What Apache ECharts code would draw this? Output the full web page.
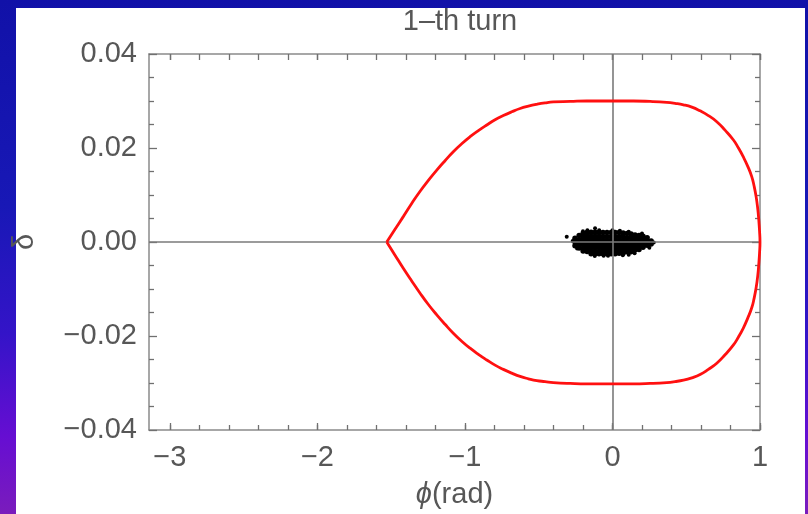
<!DOCTYPE html>
<html>
<head>
<meta charset="utf-8">
<script src="https://cdn.jsdelivr.net/npm/echarts@6/dist/echarts.min.js"></script>
<style>
  html,body{margin:0;padding:0;}
  body{width:808px;height:514px;overflow:hidden;position:relative;
    background:linear-gradient(to bottom,#1111a8 0%,#1818b6 40%,#3414c8 65%,#660ed2 85%,#7a1cbc 100%);}
  #panel{position:absolute;left:16px;top:8px;width:789px;height:506px;background:#ffffff;}
  #c{position:absolute;left:0;top:0;width:808px;height:514px;}
</style>
</head>
<body>
<div id="panel"></div>
<div id="c"></div>
<script>
// ---- data ----
const xMajorTicks = [-3, -2, -1, 0, 1];
const xTickLabels = ['\u22123', '\u22122', '\u22121', '0', '1'];
const xMinorTicks = [-3.0,-2.8,-2.6,-2.4,-2.2,-2.0,-1.8,-1.6,-1.4,-1.2,-1.0,-0.8,-0.6,-0.4,-0.2,0,0.2,0.4,0.6,0.8,1.0];
const yMajorTicks = [-0.04, -0.02, 0, 0.02, 0.04];
const yTickLabels = ['\u22120.04', '\u22120.02', '0.00', '0.02', '0.04'];

// separatrix (upper branch, left vertex -> right end)
const sepUpper = [[-1.530,0],[-1.474,0.0027],[-1.418,0.0054],[-1.361,0.0082],[-1.304,0.0108],
  [-1.248,0.0131],[-1.191,0.0153],[-1.135,0.0173],[-1.079,0.0192],[-1.022,0.0209],
  [-0.965,0.0224],[-0.909,0.0237],[-0.852,0.0249],[-0.796,0.0260],[-0.740,0.0269],
  [-0.683,0.0277],[-0.626,0.0284],[-0.570,0.0289],[-0.513,0.0293],[-0.457,0.0296],
  [-0.401,0.0298],[-0.287,0.0299],[-0.174,0.0300],[0,0.0300],[0.142,0.0300],[0.255,0.0299],
  [0.368,0.0297],[0.424,0.0295],[0.481,0.0292],[0.538,0.0287],[0.594,0.0279],
  [0.650,0.0269],[0.707,0.0256],[0.763,0.0238],[0.820,0.0217],[0.854,0.0200],
  [0.887,0.0181],[0.917,0.0161],[0.944,0.0139],[0.960,0.0119],[0.974,0.0096],
  [0.985,0.0070],[0.992,0.0046],[0.997,0.0023],[1.0,0]];
// separatrix (lower branch, right end -> left vertex)
const sepLower = [[0.997,-0.0023],[0.992,-0.0046],[0.985,-0.0071],[0.974,-0.0097],
  [0.960,-0.0120],[0.944,-0.0140],[0.917,-0.0162],[0.887,-0.0183],[0.854,-0.0202],
  [0.820,-0.0219],[0.763,-0.0240],[0.707,-0.0258],[0.650,-0.0271],[0.594,-0.0282],
  [0.538,-0.0289],[0.481,-0.0294],[0.424,-0.0297],[0.368,-0.0299],[0.255,-0.0301],
  [0.142,-0.0302],[0,-0.0302],[-0.174,-0.0302],[-0.287,-0.0301],[-0.401,-0.0299],
  [-0.457,-0.0297],[-0.513,-0.0295],[-0.570,-0.0291],[-0.626,-0.0286],[-0.683,-0.0279],
  [-0.740,-0.0271],[-0.796,-0.0262],[-0.852,-0.0251],[-0.909,-0.0239],[-0.965,-0.0226],
  [-1.022,-0.0211],[-1.079,-0.0194],[-1.135,-0.0175],[-1.191,-0.0155],[-1.248,-0.0133],
  [-1.304,-0.0109],[-1.361,-0.0083],[-1.418,-0.0056],[-1.474,-0.0028],[-1.530,0]];

// particle bunch: columns of phi with the delta values seen in each column
const bunchColumns = [
  [-0.254, [0.0008, 0.0000, -0.0008]],
  [-0.226, [0.0014, 0.0005, -0.0004, -0.0013]],
  [-0.199, [0.0018, 0.0010, 0.0002, -0.0006, -0.0014, -0.0019]],
  [-0.172, [0.0020, 0.0012, 0.0004, -0.0004, -0.0012, -0.0020]],
  [-0.145, [0.0021, 0.0012, 0.0004, -0.0004, -0.0012, -0.0020, -0.0025]],
  [-0.118, [0.0021, 0.0012, 0.0004, -0.0004, -0.0012, -0.0020, -0.0025]],
  [-0.091, [0.0021, 0.0012, 0.0004, -0.0004, -0.0012, -0.0020, -0.0025]],
  [-0.064, [0.0020, 0.0011, 0.0003, -0.0005, -0.0013, -0.0020, -0.0025]],
  [-0.037, [0.0020, 0.0011, 0.0003, -0.0005, -0.0013, -0.0020, -0.0025]],
  [-0.009, [0.0020, 0.0011, 0.0003, -0.0005, -0.0013, -0.0020, -0.0025]],
  [0.018,  [0.0020, 0.0011, 0.0003, -0.0005, -0.0013, -0.0020, -0.0025]],
  [0.045,  [0.0020, 0.0011, 0.0003, -0.0005, -0.0013, -0.0020, -0.0024]],
  [0.072,  [0.0019, 0.0011, 0.0003, -0.0005, -0.0013, -0.0020, -0.0024]],
  [0.099,  [0.0018, 0.0009, 0.0001, -0.0007, -0.0015, -0.0021]],
  [0.126,  [0.0017, 0.0009, 0.0001, -0.0007, -0.0015, -0.0021]],
  [0.153,  [0.0015, 0.0007, -0.0001, -0.0009, -0.0017]],
  [0.180,  [0.0014, 0.0006, -0.0002, -0.0010, -0.0016]],
  [0.207,  [0.0012, 0.0004, -0.0004, -0.0011]],
  [0.235,  [0.0009, 0.0001, -0.0007]],
  [0.262,  [0.0002, -0.0004]]
];
const bunchEdge = [[-0.310,0.0011],[-0.118,0.0029],[-0.170,0.0025],[-0.090,0.0025],[0.050,0.0024],
  [0.110,0.0022],[-0.120,-0.0030],[-0.030,-0.0029],[0.070,-0.0028],[0.150,-0.0024],
  [-0.270,0.0002],[0.280,-0.0001],[-0.240,-0.0014],[0.200,0.0018],[0.250,-0.0012],
  [-0.200,0.0023],[0.000,0.0025],[-0.060,-0.0029],[0.110,-0.0027]];

// ---- build ----
const bunch = [];
bunchColumns.forEach(c => c[1].forEach(d => bunch.push([c[0], d])));
const separatrix = sepUpper.concat(sepLower);

const FONT = '"Liberation Sans", Arial, Helvetica, sans-serif';
const TXT = '#575757';
const FRAME = '#8a8a8a';
const TICK = '#707070';
const FS = 29;

function labelFor(ticks, labels) {
  return v => {
    for (let i = 0; i < ticks.length; i++) if (Math.abs(ticks[i] - v) < 1e-9) return labels[i];
    return '';
  };
}

function xAx(pos, ticks, len, withLabels, withLine) {
  return {
    type: 'value', position: pos, min: -Math.PI, max: 1,
    axisLine: { show: withLine, onZero: false, lineStyle: { color: FRAME, width: 1.5 } },
    axisTick: { show: true, inside: true, length: len, customValues: ticks, lineStyle: { color: TICK, width: 1.3 } },
    axisLabel: withLabels ? { show: true, customValues: xMajorTicks, formatter: labelFor(xMajorTicks, xTickLabels),
      color: TXT, fontSize: FS, fontFamily: FONT, margin: 13 } : { show: false },
    splitLine: { show: false }
  };
}
function yAx(pos, withLabels) {
  return {
    type: 'value', position: pos, min: -0.04, max: 0.04, interval: 0.02,
    axisLine: { show: true, onZero: false, lineStyle: { color: FRAME, width: 1.5 } },
    axisTick: { show: true, inside: true, length: 8, lineStyle: { color: TICK, width: 1.3 } },
    minorTick: { show: true, splitNumber: 4, length: 5, lineStyle: { color: TICK, width: 1.3 } },
    axisLabel: withLabels ? { show: true, formatter: labelFor(yMajorTicks, yTickLabels),
      color: TXT, fontSize: FS, fontFamily: FONT, margin: 12 } : { show: false },
    splitLine: { show: false }, minorSplitLine: { show: false }
  };
}

const xAxes = [
  xAx('bottom', xMajorTicks, 7, true, true),
  xAx('bottom', xMinorTicks, 5, false, false),
  xAx('top', xMajorTicks, 6, false, true),
  xAx('top', xMinorTicks, 6, false, false)
];
xAxes[0].name = '{i|\u03d5}(rad)';
xAxes[0].nameLocation = 'middle';
xAxes[0].nameGap = 50;
xAxes[0].nameTextStyle = { color: TXT, fontSize: FS, fontFamily: FONT,
  rich: { i: { fontStyle: 'italic', fontSize: FS, fontFamily: FONT, color: TXT } } };

const yAxes = [yAx('left', true), yAx('right', false)];
yAxes[0].name = '\u03b4';
yAxes[0].nameLocation = 'middle';
yAxes[0].nameGap = 110;
yAxes[0].nameRotate = 90;
yAxes[0].nameTextStyle = { color: TXT, fontSize: FS, fontFamily: FONT };

const chart = echarts.init(document.getElementById('c'), null, { renderer: 'canvas' });
chart.setOption({
  animation: false,
  backgroundColor: 'transparent',
  title: {
    text: '1\u2013th turn', left: 455, top: 2, textAlign: 'center',
    textStyle: { color: TXT, fontSize: FS, fontWeight: 'normal', fontFamily: FONT }
  },
  grid: { left: 149, right: 48, top: 54, bottom: 84, containLabel: false },
  xAxis: xAxes,
  yAxis: yAxes,
  series: [
    {
      type: 'scatter', data: bunch, symbol: 'circle', symbolSize: 5.5,
      itemStyle: { color: '#000000', opacity: 1 }, z: 2, silent: true
    },
    {
      type: 'scatter', data: bunchEdge, symbol: 'circle', symbolSize: 4,
      itemStyle: { color: '#000000', opacity: 1 }, z: 2, silent: true
    },
    {
      type: 'line', data: [], silent: true, z: 3,
      markLine: {
        silent: true, symbol: 'none', animation: false,
        label: { show: false },
        lineStyle: { color: '#7a7a7a', width: 1.6, type: 'solid' },
        data: [{ xAxis: 0 }, { yAxis: 0 }]
      }
    },
    {
      type: 'line', data: separatrix, symbol: 'none', smooth: 0.5, smoothMonotone: null,
      lineStyle: { color: '#ff1010', width: 2.8 }, z: 5, silent: true
    }
  ]
});
</script>
</body>
</html>
